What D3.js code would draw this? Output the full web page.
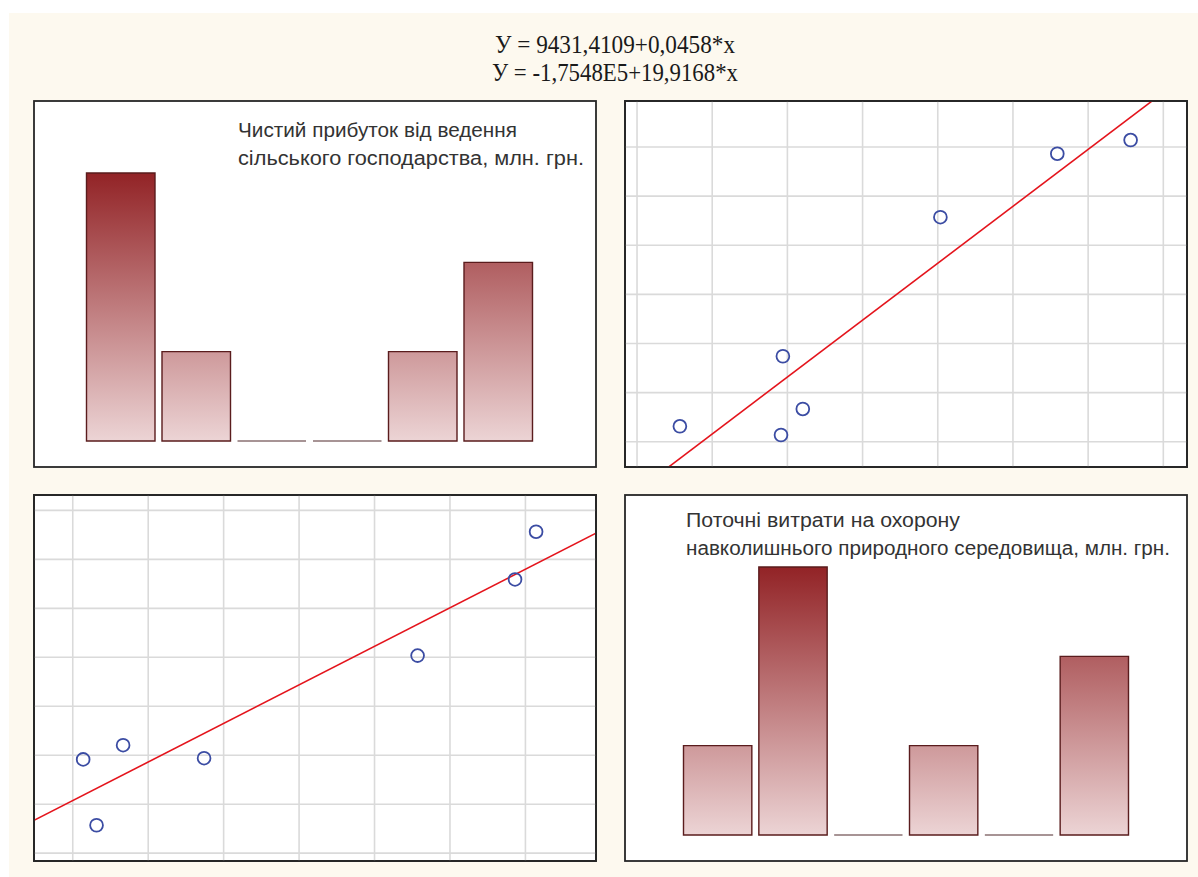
<!DOCTYPE html>
<html>
<head>
<meta charset="utf-8">
<script src="https://cdn.jsdelivr.net/npm/d3@7"></script>
<style>
body { margin: 0; background: #ffffff; }
.frame { fill: #ffffff; stroke: #262626; stroke-width: 1.8; }
.grid line { stroke: #dadada; stroke-width: 1.6; }
.title { font-family: "Liberation Sans", Arial, sans-serif; font-size: 20px; fill: #333333; }
.eq { font-family: "Liberation Serif", "Times New Roman", serif; font-size: 25px; fill: #1a1a1a; }
</style>
</head>
<body>
<script>
var width = 1198, height = 877;

// data: 7 observations
var profit = [56200, 50100, 105200, 68300, 202500, 246900, 256500];
var costs = [10500, 13190, 13240, 13770, 17430, 20540, 22490];

var profitTitle = ["Чистий прибуток від ведення", "сільського господарства, млн. грн."];
var costsTitle = ["Поточні витрати на охорону", "навколишнього природного середовища, млн. грн."];

var equations = ["У = 9431,4109+0,0458*x", "У = -1,7548E5+19,9168*x"];
var costsOnProfit = [9431.4109, 0.0458];   // costs = a + b*profit
var profitOnCosts = [-1.7548e5, 19.9168];  // profit = a + b*costs

var profitDomain = [27700, 283800];
var costsDomain = [9040, 23990];
var profitGrid = [45360, 79740, 114120, 148500, 182880, 217260, 251640];
var costsGrid = [9360, 11360, 13360, 15360, 17360, 19360, 21360, 23360];
var nBins = 6;

var svg = d3.select("body").append("svg")
            .attr("width", width).attr("height", height);

svg.append("rect").attr("x", 9).attr("y", 13)
   .attr("width", width - 9).attr("height", height - 13)
   .attr("fill", "#fdf9ef");

var defs = svg.append("defs");

// header equations
svg.append("g").selectAll("text").data(equations).enter().append("text")
   .attr("class", "eq")
   .attr("x", 615)
   .attr("y", function(d, i){ return 53 + i*28.3; })
   .attr("text-anchor", "middle")
   .attr("textLength", function(d, i){ return i == 0 ? 240 : 246; })
   .attr("lengthAdjust", "spacingAndGlyphs")
   .text(function(d){ return d; });

function frame(id, x, y, w, h){
    svg.append("rect").attr("class", "frame")
       .attr("x", x).attr("y", y).attr("width", w).attr("height", h);
    defs.append("clipPath").attr("id", id).append("rect")
        .attr("x", x).attr("y", y).attr("width", w).attr("height", h);
}

function histogram(id, values, title, box, bx, by, tx, ty, widths){
    frame(id, box[0], box[1], box[2], box[3]);
    var mn = d3.min(values), mx = d3.max(values);
    var thr = d3.range(1, nBins).map(function(i){ return mn + i*(mx - mn)/nBins; });
    var bins = d3.bin().domain([mn, mx]).thresholds(thr)(values);

    var x = d3.scaleLinear().domain([mn, mx]).range(bx);
    var y = d3.scaleLinear().domain([0, d3.max(bins, function(b){ return b.length; })]).range(by);

    var grad = defs.append("linearGradient").attr("id", id + "-grad")
                   .attr("gradientUnits", "userSpaceOnUse")
                   .attr("x1", 0).attr("x2", 0).attr("y1", by[1]).attr("y2", by[0]);
    grad.append("stop").attr("offset", "0%").attr("stop-color", "#922326");
    grad.append("stop").attr("offset", "100%").attr("stop-color", "#ecd4d5");

    svg.append("g").selectAll("path").data(bins).enter().append("path")
       .attr("d", function(b){
           var x0 = x(b.x0) + 3.5, x1 = x(b.x1) - 3.5, top = y(b.length);
           return "M" + x0 + "," + by[0] + "V" + top + "H" + x1 + "V" + by[0] + "Z";
       })
       .attr("fill", "url(#" + id + "-grad)")
       .attr("stroke", function(b){ return b.length ? "#5a1c1d" : "#8a7273"; })
       .attr("stroke-width", 1.4);

    svg.append("g").selectAll("text").data(title).enter().append("text")
       .attr("class", "title")
       .attr("x", tx)
       .attr("y", function(d, i){ return ty + i*28; })
       .attr("textLength", function(d, i){ return widths[i]; })
       .attr("lengthAdjust", "spacingAndGlyphs")
       .text(function(d){ return d; });
}

function scatter(id, xs, ys, xDom, yDom, xGrid, yGrid, coef, box){
    frame(id, box[0], box[1], box[2], box[3]);
    var x = d3.scaleLinear().domain(xDom).range([box[0], box[0] + box[2]]);
    var y = d3.scaleLinear().domain(yDom).range([box[1] + box[3], box[1]]);

    var g = svg.append("g").attr("clip-path", "url(#" + id + ")");
    var grid = g.append("g").attr("class", "grid");
    grid.selectAll(".v").data(xGrid).enter().append("line").attr("class", "v")
        .attr("x1", x).attr("x2", x).attr("y1", box[1]).attr("y2", box[1] + box[3]);
    grid.selectAll(".h").data(yGrid).enter().append("line").attr("class", "h")
        .attr("y1", y).attr("y2", y).attr("x1", box[0]).attr("x2", box[0] + box[2]);

    var fit = d3.line()
                .x(function(d){ return x(d); })
                .y(function(d){ return y(coef[0] + coef[1]*d); });
    g.append("path").attr("d", fit(xDom))
     .attr("fill", "none").attr("stroke", "#e4141c").attr("stroke-width", 1.6);

    g.selectAll("circle").data(xs).enter().append("circle")
     .attr("cx", function(d){ return x(d); })
     .attr("cy", function(d, i){ return y(ys[i]); })
     .attr("r", 6.4)
     .attr("fill", "none").attr("stroke", "#3b4ca3").attr("stroke-width", 1.8);

    svg.append("rect").attr("x", box[0]).attr("y", box[1])
       .attr("width", box[2]).attr("height", box[3])
       .attr("fill", "none").attr("stroke", "#262626").attr("stroke-width", 1.8);
}

histogram("tl", profit, profitTitle, [34, 101, 562, 366], [83, 536], [441, 173], 238, 137, [279, 346]);
scatter("tr", costs, profit, costsDomain, profitDomain, costsGrid, profitGrid, profitOnCosts, [625, 101, 562, 366]);
scatter("bl", profit, costs, profitDomain, costsDomain, profitGrid, costsGrid, costsOnProfit, [34, 495, 562, 366]);
histogram("br", costs, costsTitle, [625, 495, 562, 366], [680, 1132], [835, 567], 686, 527, [274, 484]);
</script>
</body>
</html>
